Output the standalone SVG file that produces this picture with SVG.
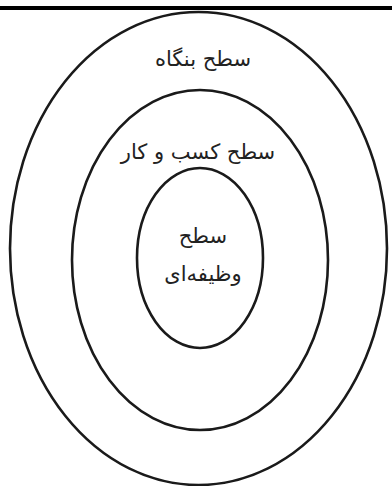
<svg xmlns="http://www.w3.org/2000/svg" width="392" height="486" viewBox="0 0 392 486">
<style>
.ring{fill:none;stroke:#1a1a1a;stroke-width:2.6}
.lbl{font-family:"DejaVu Sans","Noto Sans",sans-serif;font-size:21px;fill:#222;text-anchor:middle;direction:rtl}
</style>
<rect x="0" y="0" width="392" height="486" fill="#fff"/>
<g id="connectors"></g>
<line x1="0" y1="8" x2="392" y2="8" stroke="#000" stroke-width="4"/>
<g id="outer">
<ellipse class="ring" cx="198.5" cy="248.5" rx="188.5" ry="236.5"/>
<text class="lbl" x="203" y="66">سطح بنگاه</text>
</g>
<g id="middle">
<ellipse class="ring" cx="200" cy="260" rx="128" ry="170"/>
<text class="lbl" x="198" y="159">سطح کسب و کار</text>
</g>
<g id="inner">
<ellipse class="ring" cx="200" cy="258" rx="63" ry="90"/>
<text class="lbl" x="203" y="243">سطح</text>
<text class="lbl" x="203" y="281">وظیفه‌ای</text>
</g>
</svg>
